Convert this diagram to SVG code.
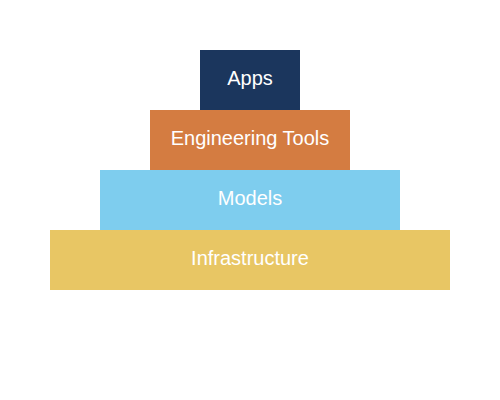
<svg xmlns="http://www.w3.org/2000/svg" width="500" height="400" viewBox="0 0 500 400">
<style>
.lbl{font-family:"Liberation Sans",Arial,sans-serif;font-size:20px;fill:#ffffff;text-anchor:middle;dominant-baseline:central}
</style>
<rect width="500" height="400" fill="#ffffff"/>
<g id="infrastructure"><rect x="50" y="230" width="400" height="60" fill="#e8c664"/><text class="lbl" x="250" y="258">Infrastructure</text></g>
<g id="models"><rect x="100" y="170" width="300" height="60" fill="#7ecdee"/><text class="lbl" x="250" y="198">Models</text></g>
<g id="engineering-tools"><rect x="150" y="110" width="200" height="60" fill="#d47c41"/><text class="lbl" x="250" y="138">Engineering Tools</text></g>
<g id="apps"><rect x="200" y="50" width="100" height="60" fill="#1b365d"/><text class="lbl" x="250" y="78">Apps</text></g>
<g id="connectors"></g>
</svg>
